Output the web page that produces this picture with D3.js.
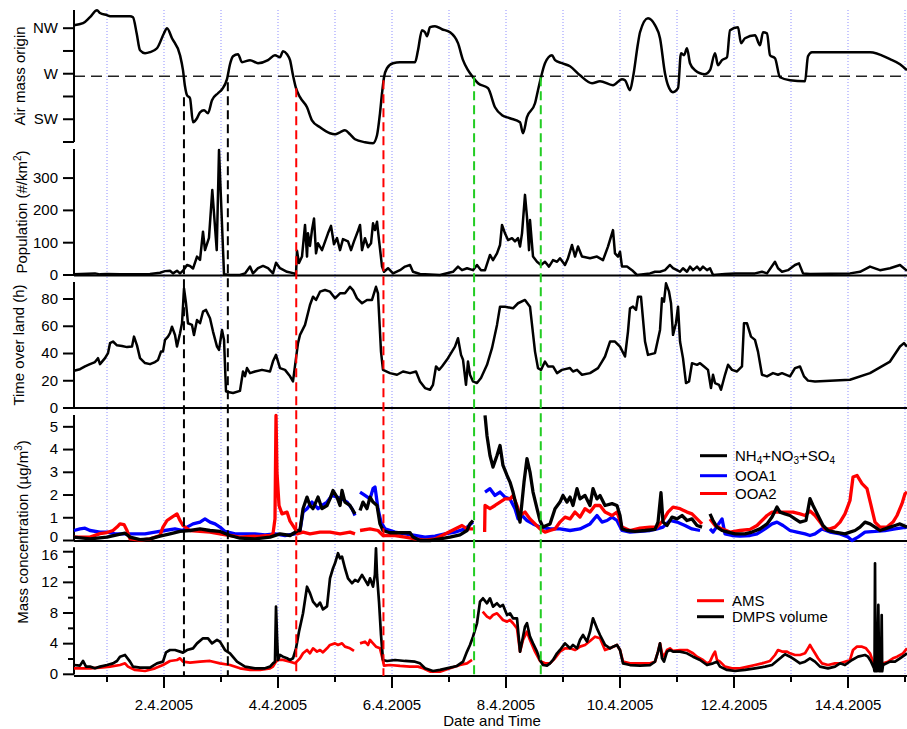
<!DOCTYPE html>
<html><head><meta charset="utf-8">
<script src="https://cdn.jsdelivr.net/npm/d3@7/dist/d3.min.js"></script>
<style>
body{margin:0;background:#fff;}
svg text{font-family:"Liberation Sans",Arial,sans-serif;fill:#000;}
</style></head><body>
<svg id="chart" width="907" height="729"></svg>
<script>
// ---------------- DATA (time = days since 1.4.2005 00:00) ----------------
const xStartDay = -0.579, xEndDay = 14.035;
const majorTickDays = [1,3,5,7,9,11,13];          // 2.4.2005 ... 14.4.2005
const minorTickDays = [0,2,4,6,8,10,12,14];
const dayLineDays = [0,1,2,3,4,5,6,7,8,9,10,11,12,13,14];

// air mass origin (degrees: SW=225, W=270, NW=315)
const airTickValues = [202.5,225,247.5,270,292.5,315];
const airTickLabels = {225:"SW",270:"W",315:"NW"};
const westLine = 267.5;
const airMass = [[-0.579,318.0],[-0.42,320],[-0.298,326],[-0.175,332.8],[-0.123,330],[0,327.9],[0.053,326.9],[0.404,326.9],[0.456,325.9],[0.52,310],[0.579,293.2],[0.667,290.3],[0.754,291.3],[0.877,295.2],[1.0,310],[1.053,315.0],[1.140,305.1],[1.281,288.3],[1.333,273.5],[1.368,257.6],[1.404,248.7],[1.456,245.8],[1.509,222.0],[1.579,226.0],[1.632,231.9],[1.702,233.9],[1.772,230.9],[1.842,243.8],[1.947,250.7],[2.018,254.7],[2.105,264.6],[2.158,279.4],[2.211,287.3],[2.298,289.3],[2.368,281.4],[2.509,283.4],[2.649,280.4],[2.825,283.4],[2.947,288.3],[3.035,286.3],[3.088,292.3],[3.158,289.3],[3.211,283.4],[3.263,268.5],[3.316,255.7],[3.386,246.8],[3.509,236.9],[3.596,224.0],[3.737,217.1],[3.912,211.2],[4.000,210.2],[4.088,212.1],[4.175,214.1],[4.263,210.2],[4.351,205.2],[4.526,202.3],[4.667,201.3],[4.737,209.2],[4.789,230.9],[4.825,250.7],[4.860,266.5],[4.912,275.4],[5.018,280.4],[5.140,281.4],[5.404,281.4],[5.456,293.2],[5.526,313.0],[5.579,311.0],[5.614,307.1],[5.667,316.0],[5.754,317.0],[5.877,314.0],[6.018,311.0],[6.158,300.2],[6.246,283.4],[6.333,273.5],[6.421,266.5],[6.509,260.6],[6.684,255.7],[6.807,236.9],[6.930,229.0],[7.070,226.0],[7.246,222.0],[7.298,211.2],[7.368,227.0],[7.509,240.8],[7.561,253.7],[7.614,266.5],[7.684,280.4],[7.807,288.3],[7.860,283.4],[7.982,280.4],[8.123,277.4],[8.298,268.5],[8.509,260.6],[8.649,262.6],[8.877,258.6],[9.035,264.6],[9.088,263.6],[9.175,253.7],[9.228,266.5],[9.316,300.2],[9.351,311.0],[9.491,324.9],[9.614,318],[9.702,305.1],[9.789,270.5],[9.842,258.6],[9.930,251.7],[10.018,255.7],[10.070,290.3],[10.123,288.3],[10.175,295.2],[10.228,280.4],[10.316,273.5],[10.491,269.5],[10.579,273.5],[10.667,290.3],[10.719,278.4],[10.789,283.4],[10.877,286.3],[10.930,313.0],[11.070,316.0],[11.123,300.2],[11.193,305.1],[11.368,308],[11.456,298.2],[11.509,311],[11.579,310],[11.632,288.3],[11.719,285.3],[11.807,266.5],[11.982,263.6],[12.246,262.6],[12.298,287.3],[12.368,291.3],[12.684,291.3],[13.386,291.3],[13.737,284.4],[13.912,279.4],[14.035,273.5]];

// transition markers
const eventDays   = [1.35, 2.12, 3.32, 4.85, 6.44, 7.61];
const eventTopDeg = [246.8, 261.6, 255.7, 263.6, 266.5, 266.5];
const eventColors = ["#000000","#000000","#ff0000","#ff0000","#22cc22","#22cc22"];

// population (#/km2)
const popTicks = [0,100,200,300];
const population = [[-0.579,2],[-0.211,5],[-0.123,2],[0,3],[0.228,2],[0.754,3],[0.930,7],[1.018,12],[1.105,13],[1.158,5],[1.228,13],[1.281,5],[1.333,13],[1.404,31],[1.456,28],[1.509,20],[1.579,57],[1.632,47],[1.684,134],[1.719,77],[1.789,115],[1.847,263],[1.925,77],[1.965,387],[2.053,2],[2.158,0],[2.333,0],[2.421,5],[2.509,26],[2.561,5],[2.649,21],[2.737,28],[2.825,21],[2.912,5],[2.965,38],[3.035,21],[3.158,10],[3.281,5],[3.316,2],[3.333,75],[3.368,37],[3.421,57],[3.474,155],[3.509,57],[3.526,129],[3.561,90],[3.596,139],[3.632,175],[3.667,67],[3.702,98],[3.772,77],[3.877,129],[3.930,152],[3.982,95],[4.035,114],[4.088,77],[4.140,111],[4.228,104],[4.281,77],[4.333,104],[4.404,137],[4.439,155],[4.474,77],[4.526,114],[4.579,86],[4.632,98],[4.667,160],[4.702,139],[4.737,165],[4.772,108],[4.825,26],[4.860,10],[4.930,21],[5.018,5],[5.140,15],[5.228,26],[5.316,31],[5.368,10],[5.491,3],[5.842,0],[6.070,10],[6.158,26],[6.228,15],[6.316,21],[6.421,15],[6.491,31],[6.561,15],[6.632,15],[6.719,62],[6.772,46],[6.842,67],[6.895,93],[6.930,155],[6.982,129],[7.035,108],[7.105,114],[7.158,104],[7.211,114],[7.246,88],[7.281,129],[7.333,248],[7.368,180],[7.404,77],[7.421,170],[7.474,57],[7.544,41],[7.614,31],[7.684,41],[7.754,26],[7.825,46],[7.895,41],[7.947,52],[8.035,31],[8.088,52],[8.158,93],[8.211,57],[8.263,88],[8.333,57],[8.474,52],[8.596,57],[8.702,46],[8.789,88],[8.877,139],[8.912,67],[8.965,57],[9.000,72],[9.035,26],[9.123,26],[9.211,15],[9.298,0],[9.526,5],[9.614,10],[9.702,10],[9.789,15],[9.877,31],[9.930,21],[10.000,15],[10.053,10],[10.105,21],[10.175,10],[10.228,26],[10.281,15],[10.351,26],[10.404,15],[10.456,26],[10.526,15],[10.579,21],[10.632,0],[10.842,3],[11.018,5],[11.193,5],[11.368,5],[11.491,10],[11.579,5],[11.719,41],[11.772,21],[11.842,10],[11.947,15],[12.070,31],[12.140,36],[12.211,5],[12.333,3],[13.035,5],[13.211,10],[13.386,26],[13.561,15],[13.737,21],[13.912,31],[14.035,13]];

// time over land (h)
const landTicks = [0,20,40,60,80];
const timeOverLand = [[-0.579,27.3],[-0.474,28.5],[-0.386,30.5],[-0.298,32.2],[-0.211,33.7],[-0.158,36.6],[-0.123,32.2],[-0.035,36.6],[0.018,40.3],[0.053,47.6],[0.105,48.8],[0.175,46],[0.263,45.5],[0.351,44.7],[0.439,45.2],[0.474,52.4],[0.526,46],[0.579,36.6],[0.667,33],[0.754,32.2],[0.842,33.7],[0.895,35.3],[0.947,41.4],[0.982,41.4],[1.018,50],[1.070,52.4],[1.105,54.9],[1.140,59.7],[1.193,53.6],[1.228,45.1],[1.281,54.9],[1.316,62.2],[1.351,87.8],[1.386,76.9],[1.421,62.2],[1.491,61],[1.526,53.6],[1.579,64.6],[1.632,62.2],[1.684,70.7],[1.737,72],[1.807,65.9],[1.860,56.1],[1.930,45.1],[1.965,42.7],[2.018,57.3],[2.053,50],[2.088,12.2],[2.123,11.7],[2.211,11],[2.333,12.6],[2.386,26.8],[2.421,23.3],[2.456,29.3],[2.509,25.6],[2.596,26.8],[2.719,28],[2.860,26.8],[2.912,34.3],[2.965,39],[3.035,29.3],[3.123,28],[3.211,23.3],[3.263,19.5],[3.316,36.6],[3.351,47.6],[3.386,53.7],[3.474,61],[3.561,75.6],[3.614,81.7],[3.667,79.3],[3.737,85.4],[3.825,86.6],[3.912,85.4],[4.000,80.5],[4.088,84.2],[4.175,84.2],[4.263,89],[4.316,86.6],[4.386,80.5],[4.474,76.9],[4.561,79.3],[4.649,79.3],[4.719,89],[4.754,84.2],[4.807,41.4],[4.842,28],[4.965,25.6],[5.088,24.4],[5.193,26.8],[5.316,25.6],[5.421,26.8],[5.491,19.5],[5.579,14.6],[5.667,13.4],[5.719,17],[5.772,30.5],[5.825,28],[5.877,30.5],[5.982,36.6],[6.105,45.1],[6.158,51.2],[6.211,39],[6.246,35.4],[6.298,17],[6.333,34.1],[6.368,24.4],[6.421,19.5],[6.491,18.3],[6.561,22],[6.667,31.7],[6.754,43.9],[6.842,61],[6.895,74.4],[6.982,74.4],[7.123,73.2],[7.211,76.9],[7.333,79.3],[7.421,74.4],[7.509,41.4],[7.561,29.3],[7.614,28],[7.684,34.1],[7.737,30.5],[7.825,30.5],[7.895,25.6],[7.982,28],[8.123,29.3],[8.175,26.8],[8.246,28],[8.333,24.4],[8.474,25.6],[8.614,29.3],[8.684,34.1],[8.737,37.8],[8.825,48.8],[8.912,48.8],[9.000,45.1],[9.088,37.8],[9.140,56.1],[9.175,73.2],[9.228,74.4],[9.281,72],[9.316,81.7],[9.368,81.7],[9.439,48.8],[9.491,39],[9.614,40.3],[9.702,57.3],[9.737,80.5],[9.772,78.1],[9.807,91.5],[9.860,85.4],[9.895,76.9],[9.930,53.7],[9.982,62.2],[10.018,74.4],[10.053,48.8],[10.105,36.6],[10.158,18.3],[10.211,19.5],[10.263,32.9],[10.351,31.7],[10.404,32.9],[10.474,30.5],[10.544,28],[10.596,14.6],[10.632,24.4],[10.667,18.3],[10.737,17],[10.772,13.4],[10.842,24.4],[10.895,31.7],[10.965,28],[11.053,26.8],[11.140,30.5],[11.175,62.2],[11.228,62.2],[11.298,52.4],[11.368,50],[11.421,41.4],[11.491,24.4],[11.579,23.2],[11.684,25.6],[11.772,24.4],[11.842,25.6],[11.982,23.2],[12.070,29.3],[12.158,30.5],[12.228,23.2],[12.298,20.1],[12.421,19.5],[13.035,20.7],[13.386,25.6],[13.737,34.1],[13.912,45.1],[13.982,47.6],[14.035,45.1]];

// mass concentration (ug/m3), null = gap
const massTicks = [0,1,2,3,4,5];
const ooa2 = [[-0.579,0.15],[-0.298,0.15],[-0.123,0.3],[0,0.35],[0.105,0.44],[0.175,0.59],[0.228,0.73],[0.298,0.7],[0.351,0.44],[0.404,0.07],[0.579,0.02],[0.754,0.07],[0.930,0.22],[0.982,0.59],[1.053,0.88],[1.140,1.03],[1.228,1.17],[1.281,0.88],[1.333,0.66],[1.456,0.44],[1.632,0.4],[1.807,0.37],[1.982,0.29],[2.158,0.22],[2.333,0.15],[2.509,0.18],[2.684,0.19],[2.860,0.22],[2.912,0.29],[2.947,0.95],[2.965,5.5],[2.982,3.0],[3.018,1.54],[3.070,1.17],[3.158,1.25],[3.211,0.85],[3.316,0.45],[3.333,0.29],[3.439,0.37],[3.561,0.29],[3.737,0.37],[3.912,0.37],[4.088,0.29],[4.263,0.37],[4.351,0.29],[4.37,null],[4.439,0.44],[4.614,0.51],[4.754,0.44],[4.842,0.22],[5.053,0.22],[5.228,0.15],[5.404,0.07],[5.579,0.02],[5.754,0.07],[5.930,0.29],[6.105,0.51],[6.228,0.66],[6.316,0.51],[6.421,0.51],[6.5,null],[6.625,0.37],[6.632,1.54],[6.719,1.4],[6.807,1.54],[6.895,1.69],[6.982,1.83],[7.070,1.83],[7.123,1.98],[7.193,1.54],[7.246,1.1],[7.333,1.25],[7.421,0.95],[7.509,0.73],[7.596,0.51],[7.684,0.37],[7.772,0.44],[7.860,0.51],[7.947,0.81],[8.035,1.03],[8.123,0.95],[8.211,1.25],[8.298,1.03],[8.386,1.4],[8.474,1.25],[8.561,1.54],[8.649,1.54],[8.737,1.25],[8.860,1.1],[8.947,1.25],[9.035,0.59],[9.175,0.44],[9.351,0.54],[9.526,0.59],[9.649,0.59],[9.754,0.88],[9.842,1.25],[9.930,1.47],[10.053,1.4],[10.175,1.25],[10.263,1.17],[10.351,0.95],[10.439,0.73],[10.46,null],[10.579,0.95],[10.667,0.66],[10.789,0.51],[10.930,0.37],[11.105,0.44],[11.281,0.49],[11.404,0.66],[11.491,0.88],[11.579,1.1],[11.667,1.25],[11.807,1.25],[11.930,1.25],[12.035,1.25],[12.158,1.17],[12.246,1.1],[12.333,1.3],[12.421,1.1],[12.509,0.81],[12.596,0.51],[12.684,0.51],[12.772,0.59],[12.860,0.81],[12.947,1.17],[13.035,1.76],[13.088,2.79],[13.158,2.86],[13.246,2.5],[13.333,2.28],[13.404,1.54],[13.474,0.81],[13.561,0.59],[13.684,0.59],[13.789,0.81],[13.860,1.1],[13.947,1.62],[14.000,2.06],[14.035,2.13]];
const ooa1 = [[-0.579,0.44],[-0.474,0.51],[-0.386,0.54],[-0.298,0.44],[-0.123,0.37],[0,0.37],[0.140,0.29],[0.316,0.29],[0.491,0.29],[0.667,0.29],[0.842,0.37],[1.018,0.44],[1.193,0.51],[1.333,0.44],[1.404,0.59],[1.509,0.73],[1.632,0.81],[1.719,0.95],[1.807,0.81],[1.895,0.73],[1.982,0.59],[2.070,0.4],[2.246,0.29],[2.421,0.29],[2.596,0.29],[2.772,0.25],[2.947,0.29],[3.123,0.22],[3.298,0.29],[3.386,0.44],[3.439,1.25],[3.509,1.4],[3.596,1.69],[3.702,1.4],[3.772,1.54],[3.860,1.69],[3.947,1.98],[4.035,1.91],[4.123,1.83],[4.211,1.69],[4.298,1.4],[4.351,1.1],[4.37,null],[4.439,2.13],[4.526,1.98],[4.614,1.83],[4.667,2.28],[4.702,2.35],[4.754,1.4],[4.807,0.81],[4.877,0.51],[5.053,0.37],[5.228,0.29],[5.404,0.22],[5.579,0.15],[5.754,0.19],[5.930,0.29],[6.105,0.37],[6.281,0.51],[6.421,0.81],[6.5,null],[6.632,2.13],[6.719,2.28],[6.807,1.98],[6.895,2.13],[6.982,1.91],[7.070,1.83],[7.158,1.4],[7.211,0.95],[7.281,1.1],[7.368,0.88],[7.474,0.73],[7.596,0.59],[7.772,0.51],[7.947,0.51],[8.123,0.44],[8.298,0.51],[8.474,0.73],[8.596,1.1],[8.684,0.81],[8.772,0.88],[8.860,1.03],[8.947,0.88],[9.035,0.44],[9.175,0.37],[9.351,0.4],[9.526,0.44],[9.649,0.51],[9.754,0.59],[9.877,0.88],[10.000,0.81],[10.140,0.66],[10.263,0.51],[10.404,0.44],[10.46,null],[10.579,0.51],[10.632,0.37],[10.790,0.95],[10.842,0.29],[10.965,0.22],[11.105,0.19],[11.281,0.22],[11.404,0.29],[11.544,0.51],[11.667,0.73],[11.754,0.81],[11.860,0.66],[11.982,0.44],[12.105,0.37],[12.246,0.29],[12.333,0.22],[12.421,0.29],[12.544,0.51],[12.684,0.37],[12.860,0.29],[13.000,0.15],[13.070,0.0],[13.175,0.15],[13.298,0.37],[13.474,0.4],[13.649,0.44],[13.825,0.51],[14.035,0.59]];
const inorganic = [[-0.579,0.15],[-0.298,0.07],[0,0.15],[0.175,0.25],[0.316,0.32],[0.404,0.15],[0.579,0.04],[0.754,0.07],[0.930,0.19],[1.105,0.29],[1.281,0.4],[1.456,0.44],[1.632,0.51],[1.807,0.44],[1.982,0.4],[2.158,0.22],[2.333,0.1],[2.596,0.07],[2.860,0.15],[3.035,0.29],[3.211,0.22],[3.351,0.44],[3.386,0.44],[3.439,1.4],[3.509,1.91],[3.561,1.54],[3.614,1.4],[3.702,1.91],[3.772,1.4],[3.860,1.54],[3.912,1.83],[3.965,2.2],[4.035,1.91],[4.088,1.54],[4.123,2.2],[4.175,1.69],[4.263,1.54],[4.351,1.17],[4.37,null],[4.439,1.32],[4.491,1.69],[4.561,1.4],[4.614,1.91],[4.667,1.69],[4.737,1.54],[4.789,0.73],[4.842,0.44],[4.965,0.34],[5.140,0.34],[5.316,0.34],[5.368,0.15],[5.491,0.0],[5.667,0.0],[5.842,0.07],[6.018,0.15],[6.193,0.25],[6.316,0.44],[6.368,0.73],[6.421,0.88],[6.5,null],[6.632,5.5],[6.667,4.6],[6.719,3.74],[6.772,3.23],[6.842,3.74],[6.895,4.18],[6.947,3.3],[7.018,2.86],[7.070,2.57],[7.123,2.13],[7.193,1.4],[7.246,0.81],[7.316,2.57],[7.368,3.6],[7.421,3.01],[7.474,2.13],[7.544,1.4],[7.596,0.88],[7.649,0.59],[7.772,0.73],[7.860,1.4],[7.947,1.69],[8.000,1.98],[8.070,1.69],[8.123,1.91],[8.175,1.54],[8.246,2.28],[8.298,1.83],[8.386,1.98],[8.474,1.54],[8.526,2.28],[8.596,1.83],[8.649,1.98],[8.737,1.54],[8.860,1.62],[8.947,1.54],[9.000,1.1],[9.035,0.51],[9.123,0.44],[9.263,0.4],[9.439,0.44],[9.614,0.49],[9.667,0.81],[9.719,2.1],[9.754,0.81],[9.825,0.66],[9.912,1.03],[10.000,0.95],[10.088,1.1],[10.175,0.88],[10.263,0.95],[10.351,0.66],[10.439,0.59],[10.46,null],[10.579,1.17],[10.632,0.88],[10.702,0.59],[10.789,0.44],[10.895,0.37],[11.018,0.29],[11.193,0.29],[11.316,0.37],[11.456,0.51],[11.579,0.73],[11.667,1.03],[11.754,1.47],[11.807,1.25],[11.895,1.17],[11.982,1.1],[12.070,0.95],[12.158,0.81],[12.263,0.88],[12.333,1.84],[12.386,1.54],[12.474,1.1],[12.561,0.66],[12.649,0.44],[12.772,0.37],[12.947,0.29],[13.035,0.37],[13.123,0.44],[13.211,0.59],[13.298,0.81],[13.386,0.73],[13.474,0.59],[13.561,0.44],[13.649,0.51],[13.737,0.59],[13.825,0.66],[13.912,0.73],[14.035,0.59]];

// volume / mass comparison
const volMajorTicks = [0,4,8,12,16];
const volMinorTicks = [2,6,10,14];
const ams = [[-0.579,0.78],[-0.298,0.78],[-0.123,0.87],[0.053,1.0],[0.228,1.21],[0.316,1.43],[0.368,1.0],[0.491,0.57],[0.667,0.43],[0.842,0.78],[0.982,1.21],[1.105,1.74],[1.228,1.87],[1.281,2.09],[1.333,1.65],[1.456,1.52],[1.632,1.65],[1.807,1.74],[1.982,1.43],[2.158,1.21],[2.333,0.78],[2.509,0.57],[2.684,0.57],[2.860,0.78],[2.912,1.0],[2.965,1.65],[3.000,1.87],[3.088,1.87],[3.211,1.65],[3.298,1.43],[3.386,2.09],[3.439,2.74],[3.509,3.17],[3.561,2.74],[3.614,3.39],[3.684,2.96],[3.737,3.17],[3.789,2.87],[3.860,3.39],[3.912,3.83],[4.000,4.04],[4.053,3.83],[4.123,4.04],[4.175,3.61],[4.263,3.39],[4.333,3.05],[4.37,null],[4.439,4.04],[4.526,4.26],[4.579,3.83],[4.614,4.48],[4.667,4.04],[4.719,3.61],[4.789,3.39],[4.825,2.3],[4.860,1.13],[4.965,1.21],[5.140,1.09],[5.316,1.0],[5.456,1.0],[5.544,0.78],[5.667,0.35],[5.842,0.35],[6.018,0.78],[6.193,1.21],[6.316,1.43],[6.404,1.87],[6.5,null],[6.591,8.17],[6.667,7.52],[6.719,7.31],[6.772,7.74],[6.842,7.96],[6.895,7.52],[6.947,7.09],[7.018,6.87],[7.070,7.09],[7.123,6.66],[7.193,6.0],[7.246,2.96],[7.298,4.48],[7.368,5.56],[7.421,4.48],[7.509,2.96],[7.596,1.74],[7.684,1.43],[7.772,1.43],[7.860,2.09],[7.947,2.96],[8.035,3.39],[8.123,3.39],[8.211,3.17],[8.298,3.61],[8.386,3.83],[8.474,4.35],[8.561,4.91],[8.649,4.7],[8.737,3.17],[8.825,3.39],[8.947,3.83],[9.000,3.17],[9.053,1.65],[9.175,1.43],[9.351,1.43],[9.526,1.43],[9.614,1.65],[9.667,2.96],[9.702,4.04],[9.737,2.74],[9.772,2.3],[9.825,3.17],[9.877,3.39],[9.930,3.05],[10.053,3.17],[10.175,3.17],[10.281,2.74],[10.351,2.3],[10.456,1.87],[10.526,1.43],[10.579,1.65],[10.632,2.52],[10.667,2.96],[10.702,1.87],[10.754,1.65],[10.842,1.0],[10.965,0.78],[11.105,0.78],[11.246,1.0],[11.368,1.21],[11.491,1.43],[11.632,1.74],[11.719,2.52],[11.772,3.17],[11.842,2.96],[11.930,2.96],[11.982,2.74],[12.070,2.52],[12.158,2.52],[12.246,2.74],[12.298,3.39],[12.333,3.83],[12.368,3.39],[12.421,2.74],[12.474,2.09],[12.544,1.43],[12.649,1.21],[12.772,1.43],[12.860,1.43],[12.947,1.65],[13.035,1.87],[13.088,3.17],[13.158,3.61],[13.246,3.61],[13.316,3.39],[13.386,2.74],[13.439,1.65],[13.509,1.43],[13.614,1.43],[13.702,1.65],[13.789,2.09],[13.860,2.3],[13.965,2.74],[14.035,3.39]];
const dmps = [[-0.579,1.21],[-0.474,1.13],[-0.421,1.74],[-0.368,1.0],[-0.298,1.0],[-0.211,0.78],[-0.123,1.0],[0,1.21],[0.105,1.43],[0.175,1.74],[0.228,2.3],[0.316,2.52],[0.404,1.65],[0.456,1.0],[0.579,0.87],[0.754,0.87],[0.877,1.43],[0.982,1.65],[1.035,2.87],[1.105,3.17],[1.193,3.17],[1.281,2.96],[1.333,2.83],[1.404,3.17],[1.509,3.39],[1.579,4.04],[1.684,4.7],[1.772,4.7],[1.842,4.04],[1.930,4.48],[1.982,4.26],[2.070,3.17],[2.158,2.74],[2.281,1.65],[2.421,1.0],[2.596,0.78],[2.772,0.78],[2.860,1.0],[2.912,1.43],[2.947,1.65],[2.965,8.83],[2.982,5.13],[3.000,1.87],[3.035,2.52],[3.088,2.3],[3.158,2.09],[3.211,1.87],[3.263,2.09],[3.316,3.39],[3.368,5.56],[3.439,7.96],[3.509,11.43],[3.561,10.6],[3.614,9.48],[3.684,8.87],[3.737,9.35],[3.789,8.48],[3.860,8.87],[3.912,12.53],[3.965,13.84],[4.000,14.49],[4.053,15.8],[4.088,15.14],[4.123,15.36],[4.175,13.84],[4.228,12.53],[4.298,11.88],[4.351,12.32],[4.404,12.1],[4.474,12.97],[4.526,12.32],[4.579,11.66],[4.614,12.53],[4.667,11.44],[4.70,13],[4.719,16.45],[4.737,12.97],[4.772,9.48],[4.807,5.13],[4.842,1.87],[4.912,1.74],[5.053,1.87],[5.228,1.74],[5.404,1.65],[5.491,1.43],[5.579,0.78],[5.719,0.43],[5.842,0.57],[6.018,0.87],[6.140,1.09],[6.246,1.65],[6.316,2.96],[6.368,3.83],[6.421,4.91],[6.491,6.66],[6.544,9.48],[6.596,9.92],[6.667,9.27],[6.719,9.92],[6.772,8.83],[6.842,9.27],[6.895,8.83],[6.947,9.05],[7.018,7.74],[7.070,7.96],[7.123,7.31],[7.193,7.31],[7.246,2.96],[7.281,4.26],[7.333,6.22],[7.368,6.66],[7.421,4.91],[7.474,4.04],[7.544,2.96],[7.596,1.87],[7.649,1.21],[7.719,1.13],[7.772,1.43],[7.825,1.87],[7.895,2.74],[7.947,3.17],[8.035,4.04],[8.123,3.39],[8.175,3.83],[8.246,3.39],[8.298,4.48],[8.351,5.13],[8.421,4.26],[8.474,5.56],[8.526,7.31],[8.596,6.0],[8.649,5.13],[8.737,3.83],[8.825,3.39],[8.877,3.61],[8.947,3.83],[9.000,3.17],[9.053,1.43],[9.175,1.21],[9.351,1.13],[9.526,1.21],[9.614,1.65],[9.667,2.96],[9.702,4.04],[9.737,2.09],[9.772,1.65],[9.825,2.96],[9.877,3.17],[9.930,2.96],[10.053,2.96],[10.175,2.74],[10.281,2.3],[10.404,1.87],[10.526,1.21],[10.632,1.43],[10.702,1.65],[10.754,1.0],[10.877,0.57],[11.018,0.43],[11.193,0.57],[11.368,0.78],[11.544,1.0],[11.667,1.21],[11.772,1.87],[11.842,2.3],[11.895,2.61],[11.982,2.3],[12.070,1.87],[12.158,1.43],[12.246,1.65],[12.333,2.09],[12.421,1.65],[12.509,1.0],[12.649,0.78],[12.772,1.0],[12.860,1.43],[12.947,1.21],[13.070,1.87],[13.175,2.3],[13.298,2.52],[13.351,2.3],[13.404,1.65],[13.456,0.78],[13.465,0.4],[13.474,14.49],[13.482,0.4],[13.509,0.4],[13.532,9.05],[13.545,0.4],[13.578,0.4],[13.591,7.74],[13.600,0.4],[13.614,1.21],[13.737,1.65],[13.825,1.65],[13.912,2.09],[14.000,2.52],[14.035,2.74]];

// ---------------- CHART ----------------
const svg = d3.select("#chart");
const FONT = 15;
const base = Date.UTC(2005,3,1), dayMs = 864e5;
const toDate = d => new Date(base + d*dayMs);

const L = 74, R = 907, AXIS_Y = 676;
const x = d3.scaleUtc().domain([toDate(xStartDay), toDate(xEndDay)]).range([L, R]);

const yAir  = d3.scaleLinear().domain([202.5,333]).range([142,10]);
const yPop  = d3.scaleLinear().domain([0,390]).range([275,149]);
const yLand = d3.scaleLinear().domain([0,92.5]).range([408,282]);
const yMass = d3.scaleLinear().domain([0,5.52]).range([540.5,415]);
const yVol  = d3.scaleLinear().domain([0,16.55]).range([674.3,547.5]);

// day grid lines (blue dotted)
svg.append("g").selectAll("line").data(dayLineDays).join("line")
  .attr("x1", d=>x(toDate(d))).attr("x2", d=>x(toDate(d)))
  .attr("y1", yAir.range()[1]).attr("y2", AXIS_Y)
  .attr("stroke","#8f8fff").attr("stroke-width",1).attr("stroke-dasharray","1,2");

// W reference line
svg.append("line").attr("x1",L).attr("x2",R).attr("y1",yAir(westLine)).attr("y2",yAir(westLine))
  .attr("stroke","#222").attr("stroke-width",1.6).attr("stroke-dasharray","11,6");

function styleAxis(g){
  g.selectAll("path,line").attr("stroke","#000").attr("stroke-width",2);
  g.selectAll("text").attr("font-size",FONT).attr("font-family","Liberation Sans, Arial, sans-serif").attr("fill","#000");
}
function leftAxis(scale, ticks, fmt){
  const g = svg.append("g").attr("transform",`translate(${L},0)`)
    .call(d3.axisLeft(scale).tickValues(ticks).tickSize(11).tickSizeOuter(0).tickPadding(5).offset(0).tickFormat(fmt));
  styleAxis(g);
  return g;
}
leftAxis(yAir, airTickValues, v => airTickLabels[v] || "");
leftAxis(yPop, popTicks, d3.format("d"));
leftAxis(yLand, landTicks, d3.format("d"));
const gMass = leftAxis(yMass, massTicks, d3.format("d"));
const gVol = leftAxis(yVol, volMajorTicks, d3.format("d"));
// keep the adjoining "0" and "16" labels from touching
gMass.selectAll(".tick").filter(d=>d===0).select("text").attr("dy","0.1em");
gVol.selectAll(".tick").filter(d=>d===16).select("text").attr("dy","0.55em");
styleAxis(svg.append("g").attr("transform",`translate(${L},0)`)
  .call(d3.axisLeft(yVol).tickValues(volMinorTicks).tickSize(6).tickSizeOuter(0).offset(0).tickFormat("")));

// panel base lines
[yPop(0)+0.5, yLand(0), yMass(0)+0.5].forEach(yy=>{
  svg.append("line").attr("x1",L).attr("x2",R).attr("y1",yy).attr("y2",yy)
    .attr("stroke","#000").attr("stroke-width",2);
});

// bottom time axis
const gx = svg.append("g").attr("transform",`translate(0,${AXIS_Y})`)
  .call(d3.axisBottom(x).tickValues(majorTickDays.map(toDate)).tickSize(12).tickSizeOuter(0).tickPadding(11).offset(0)
        .tickFormat(d3.utcFormat("%-d.%-m.%Y")));
styleAxis(gx);
styleAxis(svg.append("g").attr("transform",`translate(0,${AXIS_Y})`)
  .call(d3.axisBottom(x).tickValues(minorTickDays.map(toDate)).tickSize(6).tickSizeOuter(0).offset(0).tickFormat("")));

// series
function drawLine(data, y, color, width){
  const line = d3.line().defined(d=>d[1]!==null).x(d=>x(toDate(d[0]))).y(d=>y(d[1]));
  svg.append("path").datum(data).attr("d",line).attr("fill","none")
    .attr("stroke",color).attr("stroke-width",width).attr("stroke-linejoin","round").attr("stroke-linecap","butt");
}
const smooth = d3.line().curve(d3.curveMonotoneX).x(d=>x(toDate(d[0]))).y(d=>yAir(d[1]));
svg.append("path").datum(airMass).attr("d",smooth).attr("fill","none").attr("stroke","#000").attr("stroke-width",2.5).attr("stroke-linejoin","round");
drawLine(population, yPop, "#000", 2.5);
drawLine(timeOverLand, yLand, "#000", 2.5);
drawLine(ooa1, yMass, "#0000ff", 3.3);
drawLine(ooa2, yMass, "#ff0000", 3.3);
drawLine(inorganic, yMass, "#000", 3.3);
drawLine(ams, yVol, "#ff0000", 2.7);
drawLine(dmps, yVol, "#000", 2.7);

// event markers
svg.append("g").selectAll("line").data(eventDays).join("line")
  .attr("x1", d=>x(toDate(d))).attr("x2", d=>x(toDate(d)))
  .attr("y1", (d,i)=>yAir(eventTopDeg[i])).attr("y2", AXIS_Y)
  .attr("stroke",(d,i)=>eventColors[i]).attr("stroke-width",2).attr("stroke-dasharray","9,5");

// axis titles
function yTitle(xx, yy, parts){
  const t = svg.append("text").attr("transform",`translate(${xx},${yy}) rotate(-90)`)
    .attr("text-anchor","middle").attr("font-size",FONT);
  parts.forEach(p=>{
    const s = t.append("tspan").text(p[0]);
    if(p[1]==="sup") s.attr("font-size",10).attr("dy",-6);
    if(p[1]==="after") s.attr("dy",6);
  });
}
yTitle(25, 76, [["Air mass origin"]]);
yTitle(27, 212, [["Population (#/km"],["2","sup"],[")","after"]]);
yTitle(24, 345, [["Time over land (h)"]]);
yTitle(28, 532, [["Mass concentration (µg/m"],["3","sup"],[")","after"]]);
svg.append("text").attr("x",492).attr("y",726).attr("text-anchor","middle").attr("font-size",FONT).text("Date and Time");

// legends
function legend(items, x0, ys){
  items.forEach((it,i)=>{
    const yy = ys[i];
    svg.append("line").attr("x1",x0).attr("x2",x0+27).attr("y1",yy).attr("y2",yy)
      .attr("stroke",it.color).attr("stroke-width",3);
    const t = svg.append("text").attr("x",x0+35).attr("y",yy+5.5).attr("font-size",FONT);
    let shifted = false;
    it.label.forEach(p=>{
      const s = t.append("tspan").text(p[0]);
      if(p[1]==="sub"){ s.attr("font-size",10).attr("dy",3); shifted = true; }
      else if(shifted){ s.attr("dy",-3); shifted = false; }
    });
  });
}
legend([
  {color:"#000", label:[["NH"],["4","sub"],["+NO"],["3","sub"],["+SO"],["4","sub"]]},
  {color:"#0000ff", label:[["OOA1"]]},
  {color:"#ff0000", label:[["OOA2"]]}
], 700, [455.7, 475.7, 493.5]);
legend([
  {color:"#ff0000", label:[["AMS"]]},
  {color:"#000", label:[["DMPS volume"]]}
], 697, [600.7, 616.7]);
</script>
</body></html>
